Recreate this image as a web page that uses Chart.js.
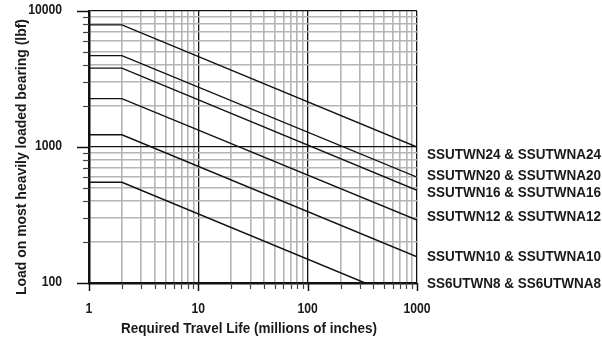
<!DOCTYPE html>
<html>
<head>
<meta charset="utf-8">
<script src="https://cdn.jsdelivr.net/npm/chart.js@4.4.1/dist/chart.umd.min.js"></script>
<style>
  html, body { margin: 0; padding: 0; background: #fff; }
</style>
</head>
<body>
<canvas id="bearingChart" width="602" height="339"></canvas>
<script>
// travel life (millions of inches) at the corners of each curve
var lifeX = [1, 2, 1000];
var lifeX8 = [1, 2, 335];

// load on most heavily loaded bearing (lbf)
var load24 = [7900, 7900, 1000];
var load20 = [4700, 4700, 600];
var load16 = [3800, 3800, 480];
var load12 = [2270, 2270, 290];
var load10 = [1230, 1230, 156];
var load8 = [550, 550, 100];

var seriesNames = [
  "SSUTWN24 & SSUTWNA24",
  "SSUTWN20 & SSUTWNA20",
  "SSUTWN16 & SSUTWNA16",
  "SSUTWN12 & SSUTWNA12",
  "SSUTWN10 & SSUTWNA10",
  "SS6UTWN8 & SS6UTWNA8"
];
// where each name sits on the load axis (right side)
var labelLoads = [870, 615, 460, 305, 155, 98];

var xTickLabels = [1, 10, 100, 1000];
var yTickLabels = [100, 1000, 10000];

var FONT = '"Liberation Sans", Arial, sans-serif';

function pairs(xs, ys) {
  return xs.map(function (x, i) {
    return { x: x, y: ys[i] };
  });
}

// 1..9 of every decade between min and max
function decadeTicks(min, max) {
  var out = [];
  for (var d = min; d < max; d *= 10) {
    for (var k = 1; k < 10; k++) out.push({ value: k * d });
  }
  out.push({ value: max });
  return out;
}

function isMajor(v) {
  var l = Math.log10(v);
  return Math.abs(l - Math.round(l)) < 1e-9;
}

// squeezed text, the original uses a condensed bold face
function condText(ctx, text, x, y, sx, angle) {
  ctx.save();
  ctx.translate(x, y);
  if (angle) ctx.rotate(angle);
  ctx.scale(sx, 1);
  ctx.fillText(text, 0, 0);
  ctx.restore();
}

var curves = [
  pairs(lifeX, load24),
  pairs(lifeX, load20),
  pairs(lifeX, load16),
  pairs(lifeX, load12),
  pairs(lifeX, load10),
  pairs(lifeX8, load8)
];

var extras = {
  id: "extras",
  afterDraw: function (chart) {
    var ctx = chart.ctx;
    var xs = chart.scales.x;
    var ys = chart.scales.y;
    var area = chart.chartArea;
    ctx.save();

    // tick marks outside the frame
    ys.ticks.forEach(function (t) {
      var py = Math.round(ys.getPixelForValue(t.value)) + 0.5;
      var major = isMajor(t.value);
      ctx.strokeStyle = major ? "#111" : "#444";
      ctx.lineWidth = major ? 1.5 : 1.2;
      ctx.beginPath();
      ctx.moveTo(area.left - (major ? 12 : 6), py);
      ctx.lineTo(area.left, py);
      ctx.stroke();
    });
    xs.ticks.forEach(function (t) {
      var px = Math.round(xs.getPixelForValue(t.value)) + 0.5;
      var major = isMajor(t.value);
      ctx.strokeStyle = major ? "#111" : "#444";
      ctx.lineWidth = major ? 1.5 : 1.2;
      ctx.beginPath();
      ctx.moveTo(px, area.bottom);
      ctx.lineTo(px, area.bottom + (major ? 8 : 6));
      ctx.stroke();
    });

    ctx.fillStyle = "#1a1a1a";

    // tick labels
    ctx.font = "bold 14px " + FONT;
    ctx.textAlign = "right";
    ctx.textBaseline = "middle";
    yTickLabels.forEach(function (v) {
      condText(ctx, String(v), 62, ys.getPixelForValue(v) - 1, 0.87);
    });
    ctx.textAlign = "center";
    xTickLabels.forEach(function (v) {
      condText(ctx, String(v), xs.getPixelForValue(v), 309, 0.87);
    });

    // axis titles
    ctx.font = "bold 15px " + FONT;
    ctx.textBaseline = "alphabetic";
    condText(ctx, "Required Travel Life (millions of inches)", (area.left + area.right) / 2 - 4, 333, 0.9);
    ctx.textBaseline = "middle";
    condText(ctx, "Load on most heavily loaded bearing (lbf)", 22, 157, 0.93, -Math.PI / 2);

    // series names
    ctx.font = "bold 15px " + FONT;
    ctx.textAlign = "left";
    seriesNames.forEach(function (name, i) {
      condText(ctx, name, area.right + 10, ys.getPixelForValue(labelLoads[i]), 0.9);
    });

    ctx.restore();
  }
};

var gridStyle = {
  drawTicks: false,
  color: function (c) {
    return c.tick && isMajor(c.tick.value) ? "#111" : "#b4b4b4";
  },
  lineWidth: function (c) {
    return c.tick && isMajor(c.tick.value) ? 1.3 : 1.6;
  }
};

new Chart(document.getElementById("bearingChart"), {
  type: "scatter",
  data: {
    datasets: curves.map(function (pts, i) {
      return {
        label: seriesNames[i],
        data: pts,
        showLine: true,
        borderColor: "#111",
        borderWidth: 1.4,
        pointRadius: 0,
        tension: 0
      };
    })
  },
  options: {
    responsive: false,
    animation: false,
    layout: { padding: { top: 11, right: 185, left: 0, bottom: 0 } },
    plugins: {
      legend: { display: false },
      tooltip: { enabled: false }
    },
    scales: {
      x: {
        type: "logarithmic",
        min: 1,
        max: 1000,
        afterBuildTicks: function (s) { s.ticks = decadeTicks(1, 1000); },
        afterFit: function (s) { s.height = 56; },
        ticks: { display: false },
        grid: gridStyle,
        border: { display: true, color: "#111", width: 2.5 }
      },
      y: {
        type: "logarithmic",
        min: 100,
        max: 10000,
        afterBuildTicks: function (s) { s.ticks = decadeTicks(100, 10000); },
        afterFit: function (s) { s.width = 89; },
        ticks: { display: false },
        grid: gridStyle,
        border: { display: true, color: "#111", width: 2.5 }
      }
    }
  },
  plugins: [extras]
});
</script>
</body>
</html>
